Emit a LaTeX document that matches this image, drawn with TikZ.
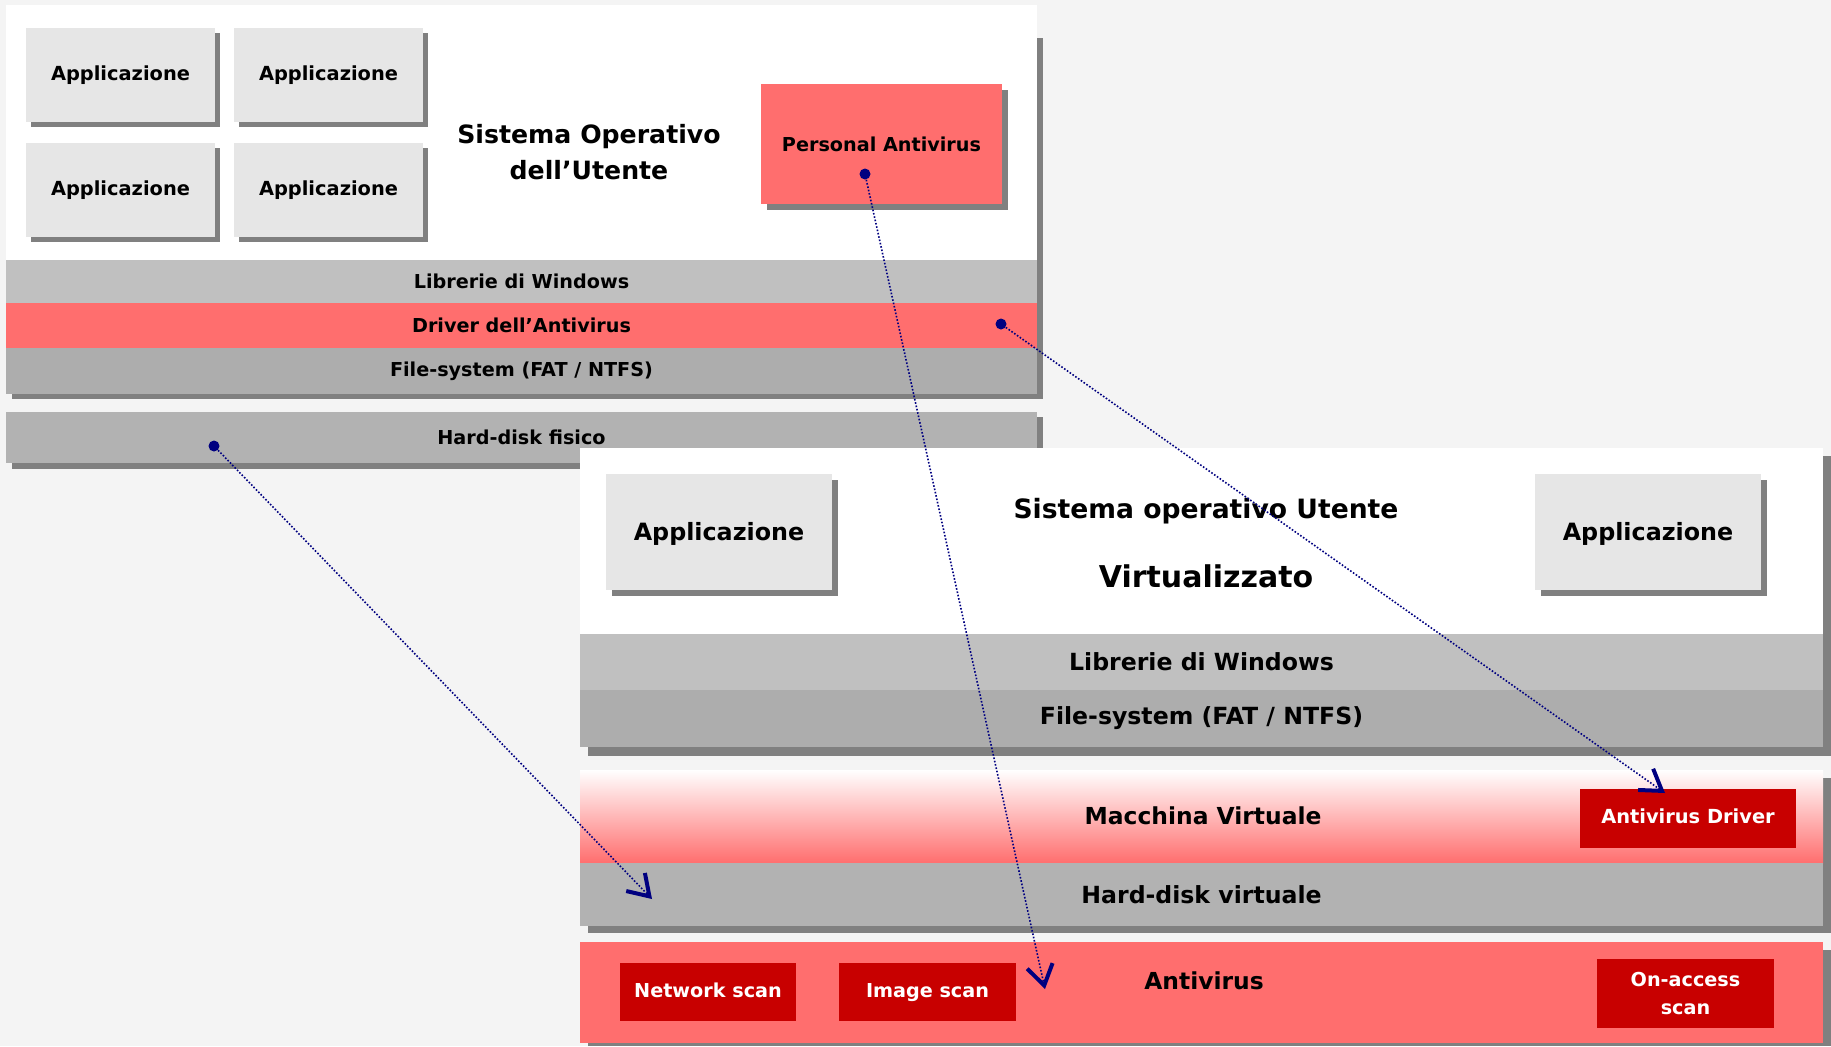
\documentclass[tikz,border=0pt]{standalone}
\usepackage{fontspec}
\setmainfont{DejaVu Sans}
\usetikzlibrary{arrows.meta,shadows}
\definecolor{pagebg}{HTML}{F4F4F4}
\definecolor{shgray}{HTML}{808080}
\definecolor{appgray}{HTML}{E6E6E6}
\definecolor{libgray}{HTML}{C0C0C0}
\definecolor{fsgray}{HTML}{ADADAD}
\definecolor{hdgray}{HTML}{B2B2B2}
\definecolor{avred}{HTML}{FF6E6E}
\definecolor{darkred}{HTML}{C80000}
\definecolor{navyblue}{HTML}{000080}
\begin{document}
\begin{tikzpicture}[x=0.5pt,y=-0.5pt,
  fs/.style={font=\bfseries\fontsize{#1}{#1}\selectfont},
  % a box given by its corners in pixel units
  span/.style n args={4}{inner sep=0pt, outer sep=0pt,
    minimum width={(#3-#1)*0.5pt}, minimum height={(#4-#2)*0.5pt},
    at={({(#1+#3)/2},{(#2+#4)/2})}},
  oneline/.style={text height=0.76em, text depth=0.24em},
  layer/.style={fill=#1, fs=9.6pt},
  biglayer/.style={fill=#1, fs=11.8pt},
  appbox/.style={fill=appgray, fs=9.7pt,
    drop shadow={shadow xshift=2.5pt, shadow yshift=-2.5pt, fill=shgray, opacity=1}},
  bigapp/.style={fill=appgray, fs=11.9pt, text height=1.05em, text depth=0.24em,
    drop shadow={shadow xshift=3pt, shadow yshift=-3pt, fill=shgray, opacity=1}},
  redfill/.style={fill=darkred, text=white, fs=#1},
  redbox/.style={redfill=#1, oneline},
  dot/.style={circle, fill=navyblue, inner sep=0pt, minimum size=5.5pt},
  conn/.style={draw=navyblue, line width=0.8pt, dash pattern=on 0.8pt off 0.9pt,
    -{Straight Barb[length=10pt, width=13pt, line width=2pt]}},
]
% page
\fill[pagebg] (0,0) rectangle (1831,1046);
\useasboundingbox (0,0) rectangle (1831,1046);

% ---------- host system ----------
\fill[shgray] (12,38) rectangle (1043,399);
\fill[white] (6,5) rectangle (1037,260);
\node[layer=libgray, span={6}{260}{1037}{303}] (lib1) {Librerie di Windows};
\node[layer=avred, span={6}{303}{1037}{348}] (drv1) {Driver dell’Antivirus};
\node[layer=fsgray, span={6}{348}{1037}{394}] (fs1) {File-system (FAT / NTFS)};

\node[appbox, span={26}{28}{215}{122}] (app1) {Applicazione};
\node[appbox, span={234}{28}{423}{122}] (app2) {Applicazione};
\node[appbox, span={26}{143}{215}{237}] (app3) {Applicazione};
\node[appbox, span={234}{143}{423}{237}] (app4) {Applicazione};

\node[fs=12.6pt, align=center, inner sep=0pt] (os1) at (589,152)
  {Sistema Operativo\\[5.5pt]dell’Utente};

\node[fill=avred, fs=9.6pt, span={761}{84}{1002}{204},
  drop shadow={shadow xshift=3pt, shadow yshift=-3pt, fill=shgray, opacity=1}]
  (pav) {Personal Antivirus};

% physical disk
\fill[shgray] (12,417) rectangle (1043,469);
\node[layer=hdgray, span={6}{412}{1037}{463}] (hd1) {Hard-disk fisico};

% ---------- virtualised system ----------
\fill[shgray] (588,456) rectangle (1831,756);
\fill[white] (580,448) rectangle (1823,634);
\node[biglayer=libgray, span={580}{634}{1823}{690}] (lib2) {Librerie di Windows};
\node[biglayer=fsgray, span={580}{690}{1823}{747}] (fs2) {File-system (FAT / NTFS)};

\node[bigapp, span={606}{474}{832}{590}] (app5) {Applicazione};
\node[bigapp, span={1535}{474}{1761}{590}] (app6) {Applicazione};

\node[fs=13.3pt, inner sep=0pt] (os2a) at (1206,511) {Sistema operativo Utente};
\node[fs=15pt, inner sep=0pt] (os2b) at (1206,576) {Virtualizzato};

% virtual machine and virtual disk
\fill[shgray] (588,778) rectangle (1831,933);
\node[top color=white, bottom color=avred, span={580}{770}{1823}{863}] (vm) {};
\node[fs=11.7pt, inner sep=0pt] (vmlabel) at (1203,816) {Macchina Virtuale};
\node[redbox=9.7pt, span={1580}{789}{1796}{848}] (avdrv) {Antivirus Driver};
\node[biglayer=hdgray, span={580}{863}{1823}{926}] (hdv) {Hard-disk virtuale};

% antivirus engine
\fill[shgray] (588,950) rectangle (1831,1046);
\node[fill=avred, span={580}{942}{1823}{1043}] (av) {};
\node[fs=11.7pt, inner sep=0pt] (avlabel) at (1204,981) {Antivirus};
\node[redbox=9.6pt, span={620}{963}{796}{1021}] (nscan) {Network scan};
\node[redbox=9.6pt, span={839}{963}{1016}{1021}] (iscan) {Image scan};
\node[redfill=9.6pt, span={1597}{959}{1774}{1028}, align=center] (oscan) {On-access\\[4pt]scan};

% ---------- mappings ----------
\node[dot] (dHD) at (214,446) {};
\node[dot] (dDrv) at (1001,324) {};
\node[dot] (dPA) at (865,174) {};
\coordinate (tHD) at (652,899);
\coordinate (tDrv) at (1665,793);
\coordinate (tPA) at (1045,989);
\draw[conn] (dHD) -- (tHD);
\draw[conn] (dDrv) -- (tDrv);
\draw[conn] (dPA) -- (tPA);
\end{tikzpicture}
\end{document}
